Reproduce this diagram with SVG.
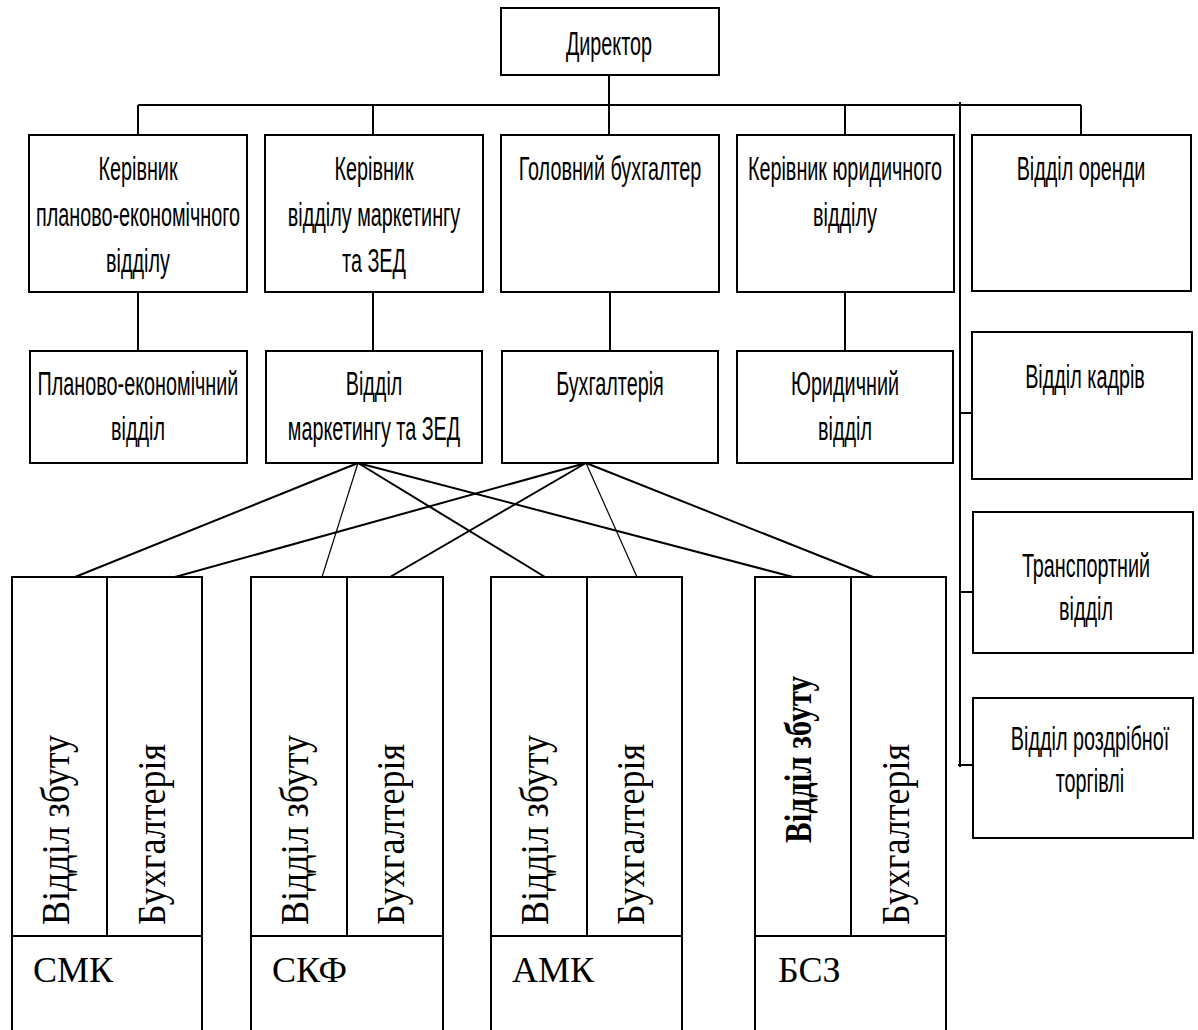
<svg xmlns="http://www.w3.org/2000/svg" width="1198" height="1030" viewBox="0 0 1198 1030">
<style>
.box{fill:#fff;stroke:#000;stroke-width:2}
.ln{fill:none;stroke:#000;stroke-width:2}
.thin{fill:none;stroke:#000;stroke-width:1.2}
.t{font-family:"Liberation Sans",Arial,sans-serif;font-size:33px;fill:#000;text-anchor:middle}
.s{font-family:"Liberation Serif","Times New Roman",serif;font-size:36px;fill:#000}
.sb{font-family:"Liberation Serif","Times New Roman",serif;font-size:31px;font-weight:bold;fill:#000}
</style>
<rect width="1198" height="1030" fill="#fff"/>
<g id="connectors">
<path class="ln" d="M609 75V135M138 105H1081M138 105V135M373 105V135M845 105V135M1081 105V135"/>
<path class="ln" d="M960 102V767M960 413H972M960 592H973M958 765H973"/>
<path class="ln" d="M138 292V351M373 292V351M610 292V351M845 292V351"/>
<path class="ln" d="M358 463L75 577M358 463L545 577M358 463L793 577"/>
<path class="thin" d="M358 463L322 577"/>
<path class="ln" d="M586 463L175 577M586 463L390 577M586 463L873 577"/>
<path class="thin" d="M586 463L637 577"/>
</g>
<g id="director"><rect class="box" x="501" y="8" width="218" height="67"/><text class="t" transform="translate(609,55) scale(0.6,1)">Директор</text></g>
<g id="kerivnyk-pev"><rect class="box" x="29" y="135" width="218" height="157"/><text class="t" transform="translate(138,180) scale(0.6,1)"><tspan x="0" y="0">Керівник</tspan><tspan x="0" y="46">планово-економічного</tspan><tspan x="0" y="92">відділу</tspan></text></g>
<g id="kerivnyk-marketing"><rect class="box" x="265" y="135" width="218" height="157"/><text class="t" transform="translate(374,180) scale(0.6,1)"><tspan x="0" y="0">Керівник</tspan><tspan x="0" y="46">відділу маркетингу</tspan><tspan x="0" y="92">та ЗЕД</tspan></text></g>
<g id="golovnyi-buh"><rect class="box" x="501" y="135" width="218" height="157"/><text class="t" transform="translate(610,180) scale(0.6,1)">Головний бухгалтер</text></g>
<g id="kerivnyk-yur"><rect class="box" x="737" y="135" width="217" height="157"/><text class="t" transform="translate(845,180) scale(0.6,1)"><tspan x="0" y="0">Керівник юридичного</tspan><tspan x="0" y="46">відділу</tspan></text></g>
<g id="orendy"><rect class="box" x="972" y="135" width="219" height="156"/><text class="t" transform="translate(1081,180) scale(0.6,1)">Відділ оренди</text></g>
<g id="kadriv"><rect class="box" x="972" y="332" width="220" height="147"/><text class="t" transform="translate(1085,388) scale(0.6,1)">Відділ кадрів</text></g>
<g id="transport"><rect class="box" x="973" y="512" width="220" height="141"/><text class="t" transform="translate(1086,577) scale(0.6,1)"><tspan x="0" y="0">Транспортний</tspan><tspan x="0" y="43">відділ</tspan></text></g>
<g id="rozdrib"><rect class="box" x="973" y="698" width="220" height="140"/><text class="t" transform="translate(1090,750) scale(0.6,1)"><tspan x="0" y="0">Відділ роздрібної</tspan><tspan x="0" y="42">торгівлі</tspan></text></g>
<g id="pev"><rect class="box" x="30" y="351" width="217" height="112"/><text class="t" transform="translate(138,395) scale(0.6,1)"><tspan x="0" y="0">Планово-економічний</tspan><tspan x="0" y="45">відділ</tspan></text></g>
<g id="marketing"><rect class="box" x="266" y="351" width="216" height="112"/><text class="t" transform="translate(374,395) scale(0.6,1)"><tspan x="0" y="0">Відділ</tspan><tspan x="0" y="45">маркетингу та ЗЕД</tspan></text></g>
<g id="buh"><rect class="box" x="502" y="351" width="216" height="112"/><text class="t" transform="translate(610,395) scale(0.6,1)">Бухгалтерія</text></g>
<g id="yur"><rect class="box" x="737" y="351" width="216" height="112"/><text class="t" transform="translate(845,395) scale(0.6,1)"><tspan x="0" y="0">Юридичний</tspan><tspan x="0" y="45">відділ</tspan></text></g>
<g id="smk"><rect class="box" x="12" y="577" width="190" height="470"/><path class="box" d="M107 577V936M12 936H202"/>
<text class="s" transform="translate(69,925) rotate(-90) scale(1,1.13)">Відділ збуту</text>
<text class="s" transform="translate(165,925) rotate(-90) scale(1,1.13)">Бухгалтерія</text>
<text class="s" x="33" y="982">СМК</text></g>
<g id="skf"><rect class="box" x="251" y="577" width="192" height="470"/><path class="box" d="M347 577V936M251 936H443"/>
<text class="s" transform="translate(308,925) rotate(-90) scale(1,1.13)">Відділ збуту</text>
<text class="s" transform="translate(404,925) rotate(-90) scale(1,1.13)">Бухгалтерія</text>
<text class="s" x="272" y="982">СКФ</text></g>
<g id="amk"><rect class="box" x="491" y="577" width="191" height="470"/><path class="box" d="M587 577V936M491 936H682"/>
<text class="s" transform="translate(548,925) rotate(-90) scale(1,1.13)">Відділ збуту</text>
<text class="s" transform="translate(644,925) rotate(-90) scale(1,1.13)">Бухгалтерія</text>
<text class="s" x="512" y="982">АМК</text></g>
<g id="bsz"><rect class="box" x="755" y="577" width="191" height="470"/><path class="box" d="M851 577V936M755 936H946"/>
<text class="sb" transform="translate(811,843) rotate(-90) scale(1,1.25)">Відділ збуту</text>
<text class="s" transform="translate(909,925) rotate(-90) scale(1,1.13)">Бухгалтерія</text>
<text class="s" x="778" y="982">БСЗ</text></g>
</svg>
